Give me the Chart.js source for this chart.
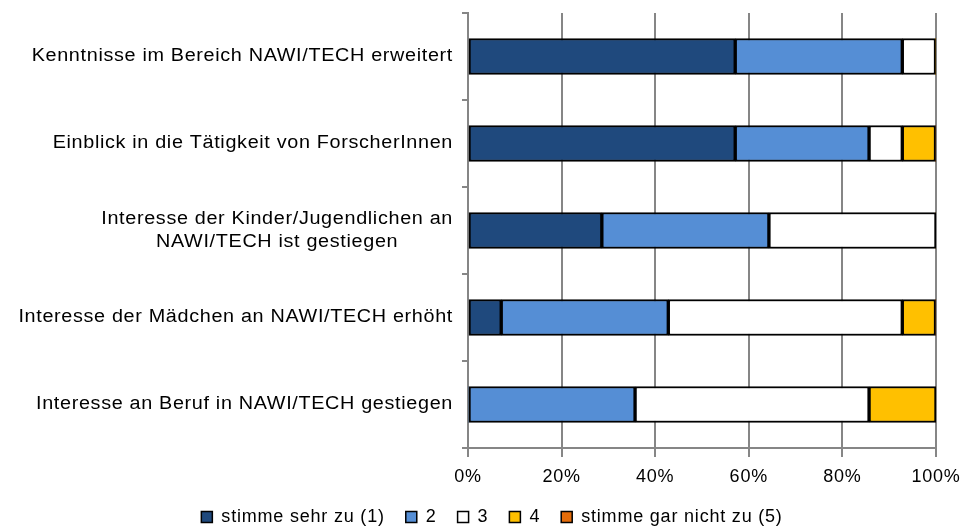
<!DOCTYPE html>
<html>
<head>
<meta charset="utf-8">
<script src="https://cdn.jsdelivr.net/npm/chart.js@4.4.0/dist/chart.umd.min.js"></script>
<style>
  html, body { margin: 0; padding: 0; background: #fff; }
  #wrap { width: 966px; height: 528px; }
</style>
</head>
<body>
<div id="wrap"><canvas id="chart"></canvas></div>
<script>
// Kategorien (y-Achse)
var categories = [
    'Kenntnisse im Bereich NAWI/TECH erweitert',
    'Einblick in die Tätigkeit von ForscherInnen',
    ['Interesse der Kinder/Jugendlichen an', 'NAWI/TECH ist gestiegen'],
    'Interesse der Mädchen an NAWI/TECH erhöht',
    'Interesse an Beruf in NAWI/TECH gestiegen'
];
// Anteile in %
var sehrZu   = [57.1, 57.1, 28.6, 7.1, 0];
var stufe2   = [35.7, 28.6, 35.7, 35.7, 35.7];
var stufe3   = [7.1, 7.1, 35.7, 50.0, 50.0];
var stufe4   = [0, 7.1, 0, 7.1, 14.3];
var garNicht = [0, 0, 0, 0, 0];
var xTicks   = [0, 20, 40, 60, 80, 100];

var FONT = 'Liberation Sans, Arial, sans-serif';
var GRID = '#868686';
var SPACING = '0.8px';

function ds(label, data, color) {
    return {
        label: label,
        data: data,
        backgroundColor: color,
        borderColor: '#000',
        borderWidth: function (c) { return c.raw === 0 ? 0 : 2; },
        borderSkipped: false,
        barThickness: 36
    };
}

// etwas breitere Schrift wie im Original
var spacingPlugin = {
    id: 'spacing',
    beforeUpdate: function (chart) { chart.ctx.letterSpacing = SPACING; },
    beforeDraw: function (chart) { chart.ctx.letterSpacing = SPACING; }
};

// y-Beschriftungen selbst zeichnen (mehrzeilig zentriert wie im Original)
var labelPlugin = {
    id: 'yLabels',
    afterDraw: function (chart) {
        var y = chart.scales.y;
        var c = chart.ctx;
        var sx = 1.1;
        c.save();
        c.letterSpacing = '0.6px';
        c.font = '18px ' + FONT;
        c.fillStyle = '#000';
        c.textBaseline = 'middle';
        var right = (y.right - 15) / sx;
        c.scale(sx, 1);
        categories.forEach(function (lab, i) {
            var py = y.getPixelForValue(i);
            if (Array.isArray(lab)) {
                var w = Math.max.apply(null, lab.map(function (l) { return c.measureText(l).width; }));
                var cx = right - w / 2;
                c.textAlign = 'center';
                var lh = 23;
                lab.forEach(function (l, k) {
                    c.fillText(l, cx, py + (k - (lab.length - 1) / 2) * lh);
                });
            } else {
                c.textAlign = 'right';
                c.fillText(lab, right, py);
            }
        });
        c.restore();
    }
};

new Chart(document.getElementById('chart'), {
    type: 'bar',
    data: {
        labels: categories,
        datasets: [
            ds('stimme sehr zu (1)', sehrZu, '#1F497D'),
            ds('2', stufe2, '#558ED5'),
            ds('3', stufe3, '#FFFFFF'),
            ds('4', stufe4, '#FFC000'),
            ds('stimme gar nicht zu (5)', garNicht, '#E46C0A')
        ]
    },
    plugins: [spacingPlugin, labelPlugin],
    options: {
        indexAxis: 'y',
        responsive: true,
        maintainAspectRatio: false,
        animation: false,
        layout: { padding: { top: 13, right: 30, left: 48, bottom: -8 } },
        scales: {
            x: {
                stacked: true,
                min: 0,
                max: 100,
                afterBuildTicks: function (s) { s.ticks = xTicks.map(function (v) { return { value: v }; }); },
                afterFit: function (s) { s.height = 39; s.paddingRight = 0; },
                ticks: {
                    callback: function (v) { return v + '%'; },
                    font: { family: FONT, size: 18 },
                    color: '#000',
                    padding: 9
                },
                grid: { color: GRID, lineWidth: 2, tickLength: 9 },
                border: { display: true, color: GRID, width: 2 }
            },
            y: {
                stacked: true,
                afterFit: function (s) { s.width = 420; },
                ticks: { display: false },
                grid: { display: true, offset: true, drawOnChartArea: false, color: GRID, lineWidth: 2, tickLength: 6 },
                border: { display: true, color: GRID, width: 2 }
            }
        },
        plugins: {
            legend: {
                position: 'bottom',
                labels: {
                    font: { family: FONT, size: 18 },
                    color: '#000',
                    boxWidth: 11,
                    boxHeight: 11,
                    padding: 21,
                    generateLabels: function (chart) {
                        var items = Chart.defaults.plugins.legend.labels.generateLabels(chart);
                        items.forEach(function (it) { it.lineWidth = 1.5; it.strokeStyle = '#000'; });
                        return items;
                    }
                }
            },
            tooltip: { enabled: false }
        }
    }
});
</script>
</body>
</html>
